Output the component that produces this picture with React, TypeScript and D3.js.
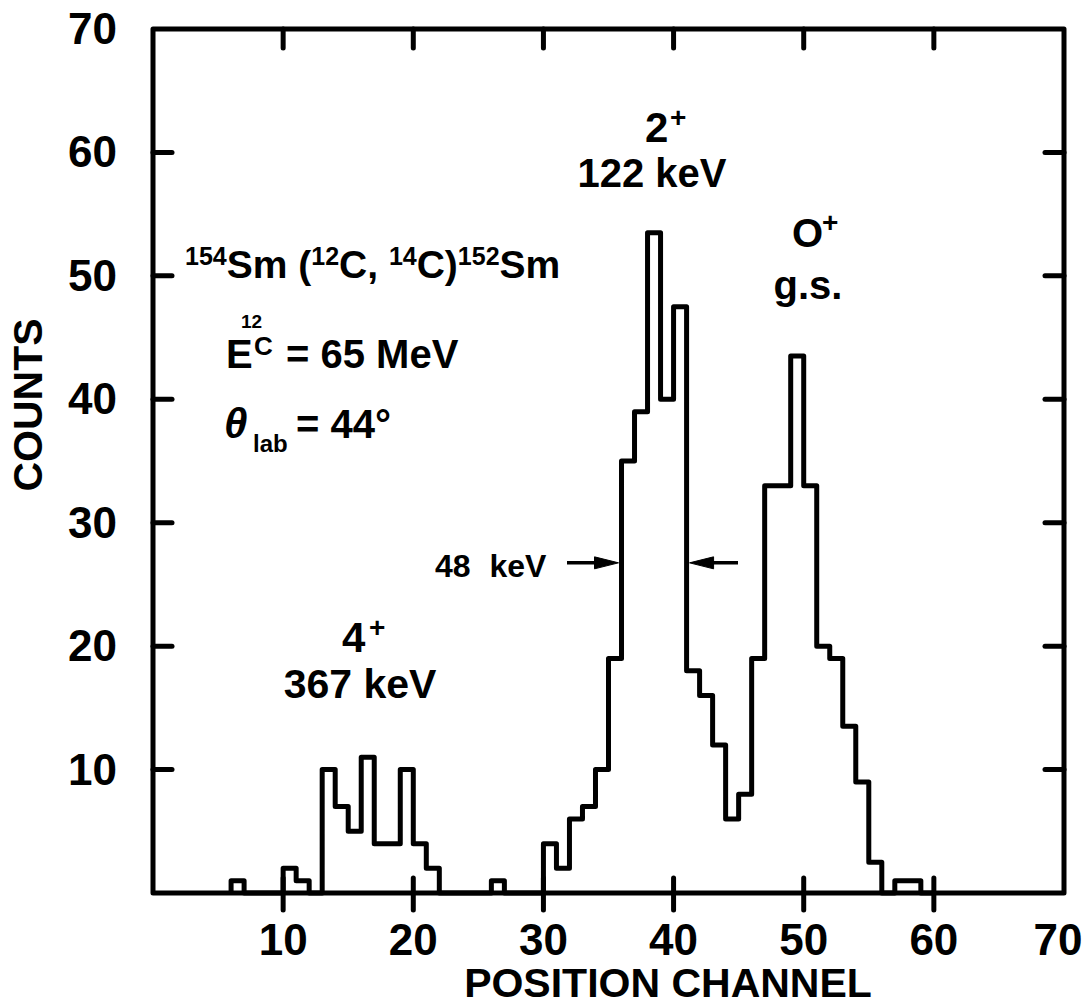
import React from "react";
import * as d3 from "d3";

// Position-channel spectrum of the 154Sm(12C,14C)152Sm transfer reaction
const channels = [
  6, 7, 8, 9, 10, 11, 12, 13, 14, 15, 16, 17, 18, 19, 20, 21, 22, 23, 24, 25,
  26, 27, 28, 29, 30, 31, 32, 33, 34, 35, 36, 37, 38, 39, 40, 41, 42, 43, 44,
  45, 46, 47, 48, 49, 50, 51, 52, 53, 54, 55, 56, 57, 58, 59,
];
const counts = [
  1, 0, 0, 0, 2, 1, 0, 10, 7, 5, 11, 4, 4, 10, 4, 2, 0, 0, 0, 0,
  1, 0, 0, 0, 4, 2, 6, 7, 10, 19, 35, 39, 53.5, 40, 47.5, 18, 16, 12, 6,
  8, 19, 33, 33, 43.5, 33, 20, 19, 13.5, 9, 2.5, 0, 1, 1, 0,
];
const xTicks = [10, 20, 30, 40, 50, 60, 70];
const yTicks = [10, 20, 30, 40, 50, 60, 70];
const innerTicks = [10, 20, 30, 40, 50, 60];

// FWHM markers of the 2+ peak (half of its maximum)
const fwhmEdges = [36, 41];
const fwhmLevel = 26.75;

const W = 1090;
const H = 1007;
const FONT = "'Liberation Sans', Arial, sans-serif";

export default function App() {
  const x = d3.scaleLinear().domain([0, 70]).range([153, 1064]);
  const y = d3.scaleLinear().domain([0, 70]).range([893, 29]);

  // step outline of the histogram, closed down to the baseline at both ends
  const pts: [number, number][] = [[channels[0], 0]];
  channels.forEach((c, i) => pts.push([c, counts[i]]));
  pts.push([channels[channels.length - 1] + 1, 0]);
  const stepLine = d3
    .line<[number, number]>()
    .x((d) => x(d[0]))
    .y((d) => y(d[1]))
    .curve(d3.curveStepAfter);

  const frame = `M${x(0)},${y(70)}L${x(70)},${y(70)}L${x(70)},${y(0)}L${x(0)},${y(0)}Z`;

  const yA = y(fwhmLevel);
  const leftTip = x(fwhmEdges[0]) - 3;
  const rightTip = x(fwhmEdges[1]) + 3;

  const sw = 5;
  return (
    <svg
      width={W}
      height={H}
      style={{ position: "absolute", left: 0, top: 0, background: "#fff" }}
      fontFamily={FONT}
      fontWeight="bold"
    >
      <rect width={W} height={H} fill="#fff" />
      {/* histogram */}
      <path
        d={stepLine(pts) || ""}
        fill="none"
        stroke="#000"
        strokeWidth={sw}
        strokeLinejoin="round"
      />
      {/* frame */}
      <path d={frame} fill="none" stroke="#000" strokeWidth={sw} strokeLinejoin="round" />
      {/* ticks */}
      {innerTicks.map((t) => (
        <g key={"t" + t} stroke="#000" strokeWidth={sw} strokeLinecap="round">
          <line x1={x(0)} x2={x(0) + 19} y1={y(t)} y2={y(t)} />
          <line x1={x(70)} x2={x(70) - 19} y1={y(t)} y2={y(t)} />
          <line x1={x(t)} x2={x(t)} y1={y(70)} y2={y(70) + 19} />
          <line x1={x(t)} x2={x(t)} y1={y(0) - 15} y2={y(0) + 17} />
        </g>
      ))}
      {/* tick labels */}
      {yTicks.map((t) => (
        <text key={"yl" + t} x={117} y={y(t) + 15} fontSize={44} textAnchor="end">
          {t}
        </text>
      ))}
      {xTicks.map((t) => (
        <text
          key={"xl" + t}
          x={t === 70 ? x(t) - 6 : x(t)}
          y={955}
          fontSize={44}
          textAnchor="middle"
        >
          {t}
        </text>
      ))}
      {/* axis titles */}
      <text x={668} y={997} fontSize={41} textAnchor="middle">
        POSITION CHANNEL
      </text>
      <text
        transform={`translate(42,405) rotate(-90)`}
        fontSize={41}
        textAnchor="middle"
      >
        COUNTS
      </text>

      {/* reaction and kinematics */}
      <text x={185} y={278} fontSize={39}>
        <tspan fontSize={25} dy={-13}>154</tspan>
        <tspan dy={13}>Sm (</tspan>
        <tspan fontSize={25} dy={-13}>12</tspan>
        <tspan dy={13}>C, </tspan>
        <tspan fontSize={25} dy={-13}>14</tspan>
        <tspan dy={13}>C)</tspan>
        <tspan fontSize={25} dy={-13}>152</tspan>
        <tspan dy={13}>Sm</tspan>
      </text>
      <text x={226} y={368} fontSize={40}>E</text>
      <text x={241} y={328} fontSize={19}>12</text>
      <text x={254} y={355} fontSize={26}>C</text>
      <text x={286} y={368} fontSize={40}>= 65 MeV</text>
      <text x={224} y={438} fontSize={42} fontStyle="italic">θ</text>
      <text x={253} y={452} fontSize={24}>lab</text>
      <text x={296} y={438} fontSize={40}>= 44°</text>

      {/* level labels */}
      <text x={645} y={142} fontSize={42}>2</text>
      <text x={670} y={127} fontSize={28}>+</text>
      <text x={652} y={187} fontSize={40} textAnchor="middle">122 keV</text>
      <text x={792} y={247} fontSize={40}>O</text>
      <text x={822} y={232} fontSize={28}>+</text>
      <text x={808} y={299} fontSize={40} textAnchor="middle">g.s.</text>
      <text x={342} y={652} fontSize={42}>4</text>
      <text x={369} y={637} fontSize={28}>+</text>
      <text x={360} y={698} fontSize={41} textAnchor="middle">367 keV</text>

      {/* FWHM arrows */}
      <text x={435} y={577} fontSize={32} wordSpacing={10}>48 keV</text>
      <g stroke="#000" strokeWidth={3.5} fill="#000">
        <line x1={567} x2={leftTip - 16} y1={yA} y2={yA} />
        <path d={`M${leftTip},${yA}L${leftTip - 24},${yA - 6}L${leftTip - 24},${yA + 6}Z`} strokeWidth={1} />
        <line x1={738} x2={rightTip + 16} y1={yA} y2={yA} />
        <path d={`M${rightTip},${yA}L${rightTip + 24},${yA - 6}L${rightTip + 24},${yA + 6}Z`} strokeWidth={1} />
      </g>
    </svg>
  );
}
